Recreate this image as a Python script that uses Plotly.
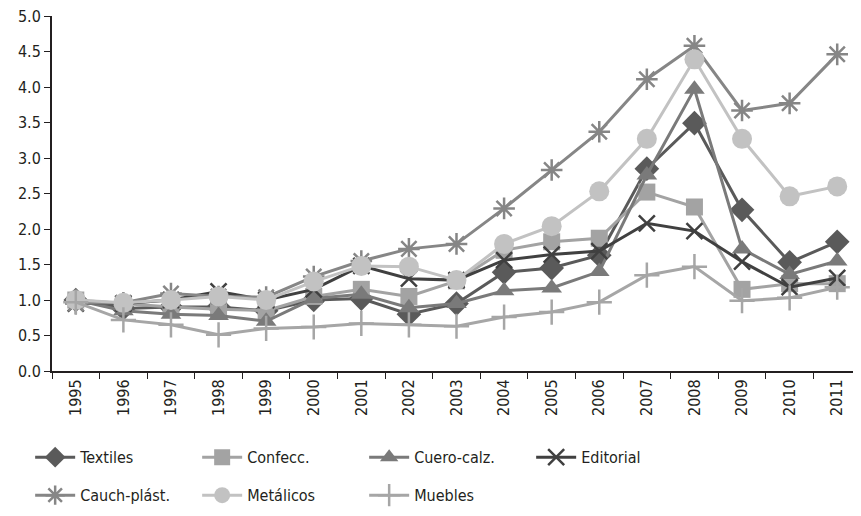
import plotly.graph_objects as go

years = [str(y) for y in range(1995, 2012)]

textiles   = [1.00, 0.88, 0.90, 0.90, 0.85, 1.00, 1.02, 0.80, 0.95, 1.39, 1.45, 1.63, 2.85, 3.49, 2.27, 1.53, 1.82]
confecc    = [1.00, 0.95, 0.90, 0.87, 0.85, 1.05, 1.15, 1.05, 1.27, 1.70, 1.82, 1.87, 2.52, 2.31, 1.15, 1.23, 1.23]
cuero      = [1.00, 0.85, 0.80, 0.78, 0.70, 1.02, 1.08, 0.89, 0.95, 1.13, 1.17, 1.40, 2.76, 3.97, 1.72, 1.36, 1.55]
editorial  = [0.95, 0.95, 1.00, 1.12, 1.00, 1.15, 1.48, 1.30, 1.28, 1.56, 1.64, 1.69, 2.08, 1.97, 1.54, 1.18, 1.31]
cauch      = [0.95, 0.96, 1.09, 1.05, 1.04, 1.33, 1.55, 1.72, 1.79, 2.29, 2.83, 3.37, 4.11, 4.58, 3.67, 3.77, 4.46]
metalicos  = [1.00, 0.96, 1.00, 1.05, 1.00, 1.26, 1.48, 1.47, 1.28, 1.79, 2.04, 2.53, 3.27, 4.39, 3.27, 2.46, 2.60]
muebles    = [0.97, 0.72, 0.65, 0.51, 0.60, 0.62, 0.67, 0.65, 0.63, 0.76, 0.83, 0.97, 1.35, 1.47, 0.99, 1.03, 1.18]

y_ticks = [0, 0.5, 1, 1.5, 2, 2.5, 3, 3.5, 4, 4.5, 5]

series = [
    ("Textiles", textiles, "#5a5a5a", dict(symbol="diamond", size=19), "legend"),
    ("Confecc.", confecc, "#a3a3a3", dict(symbol="square", size=17), "legend"),
    ("Cuero-calz.", cuero, "#7a7a7a", dict(symbol="triangle-up", size=18), "legend"),
    ("Editorial", editorial, "#404040", dict(symbol="x-thin-open", size=16, line=dict(width=2.5, color="#404040")), "legend"),
    ("Cauch-plást.", cauch, "#868686", dict(symbol="asterisk-open", size=18, line=dict(width=2.5, color="#868686")), "legend2"),
    ("Metálicos", metalicos, "#c2c2c2", dict(symbol="circle", size=20), "legend2"),
    ("Muebles", muebles, "#a6a6a6", dict(symbol="cross-thin-open", size=18, line=dict(width=2.5, color="#a6a6a6")), "legend2"),
]

FONT = "DejaVu Sans Condensed, Liberation Sans Narrow, Arial Narrow, sans-serif"
FS = 15

fig = go.Figure()
for name, vals, color, mk, lg in series:
    marker = dict(color=color, **mk)
    fig.add_trace(go.Scatter(
        x=years, y=vals, name=name, mode="lines+markers",
        line=dict(color=color, width=3),
        marker=marker, legend=lg,
    ))

leg_common = dict(
    orientation="h", x=-0.027, xanchor="left", yanchor="middle",
    entrywidth=112, entrywidthmode="pixels",
    font=dict(size=FS + 1, family=FONT, color="#231f20"), itemwidth=40,
    bgcolor="rgba(0,0,0,0)",
)

fig.update_layout(
    width=853, height=508,
    margin=dict(l=44, r=0, t=8, b=145, autoexpand=False),
    paper_bgcolor="white", plot_bgcolor="white",
    font=dict(family=FONT, size=FS, color="#231f20"),
    showlegend=True,
    legend=dict(y=-0.243, **leg_common),
    legend2=dict(y=-0.350, **leg_common),
)
fig.update_xaxes(
    type="category", range=[-0.5, 16.5], tickangle=-90, showline=True, linecolor="#231f20", linewidth=2,
    ticks="outside", tickson="boundaries", ticklen=6, tickcolor="#231f20",
    showgrid=False, zeroline=False, tickfont=dict(size=FS + 1), automargin=False,
    ticklabeloverflow="allow",
)
fig.update_yaxes(
    range=[0, 5], tickvals=y_ticks, tickformat=".1f", showline=True, linecolor="#231f20",
    linewidth=2, ticks="outside", ticklen=6, tickcolor="#231f20",
    showgrid=False, zeroline=False, tickfont=dict(size=FS + 1), automargin=False,
    ticklabeloverflow="allow",
)

fig.write_html("out.html")
